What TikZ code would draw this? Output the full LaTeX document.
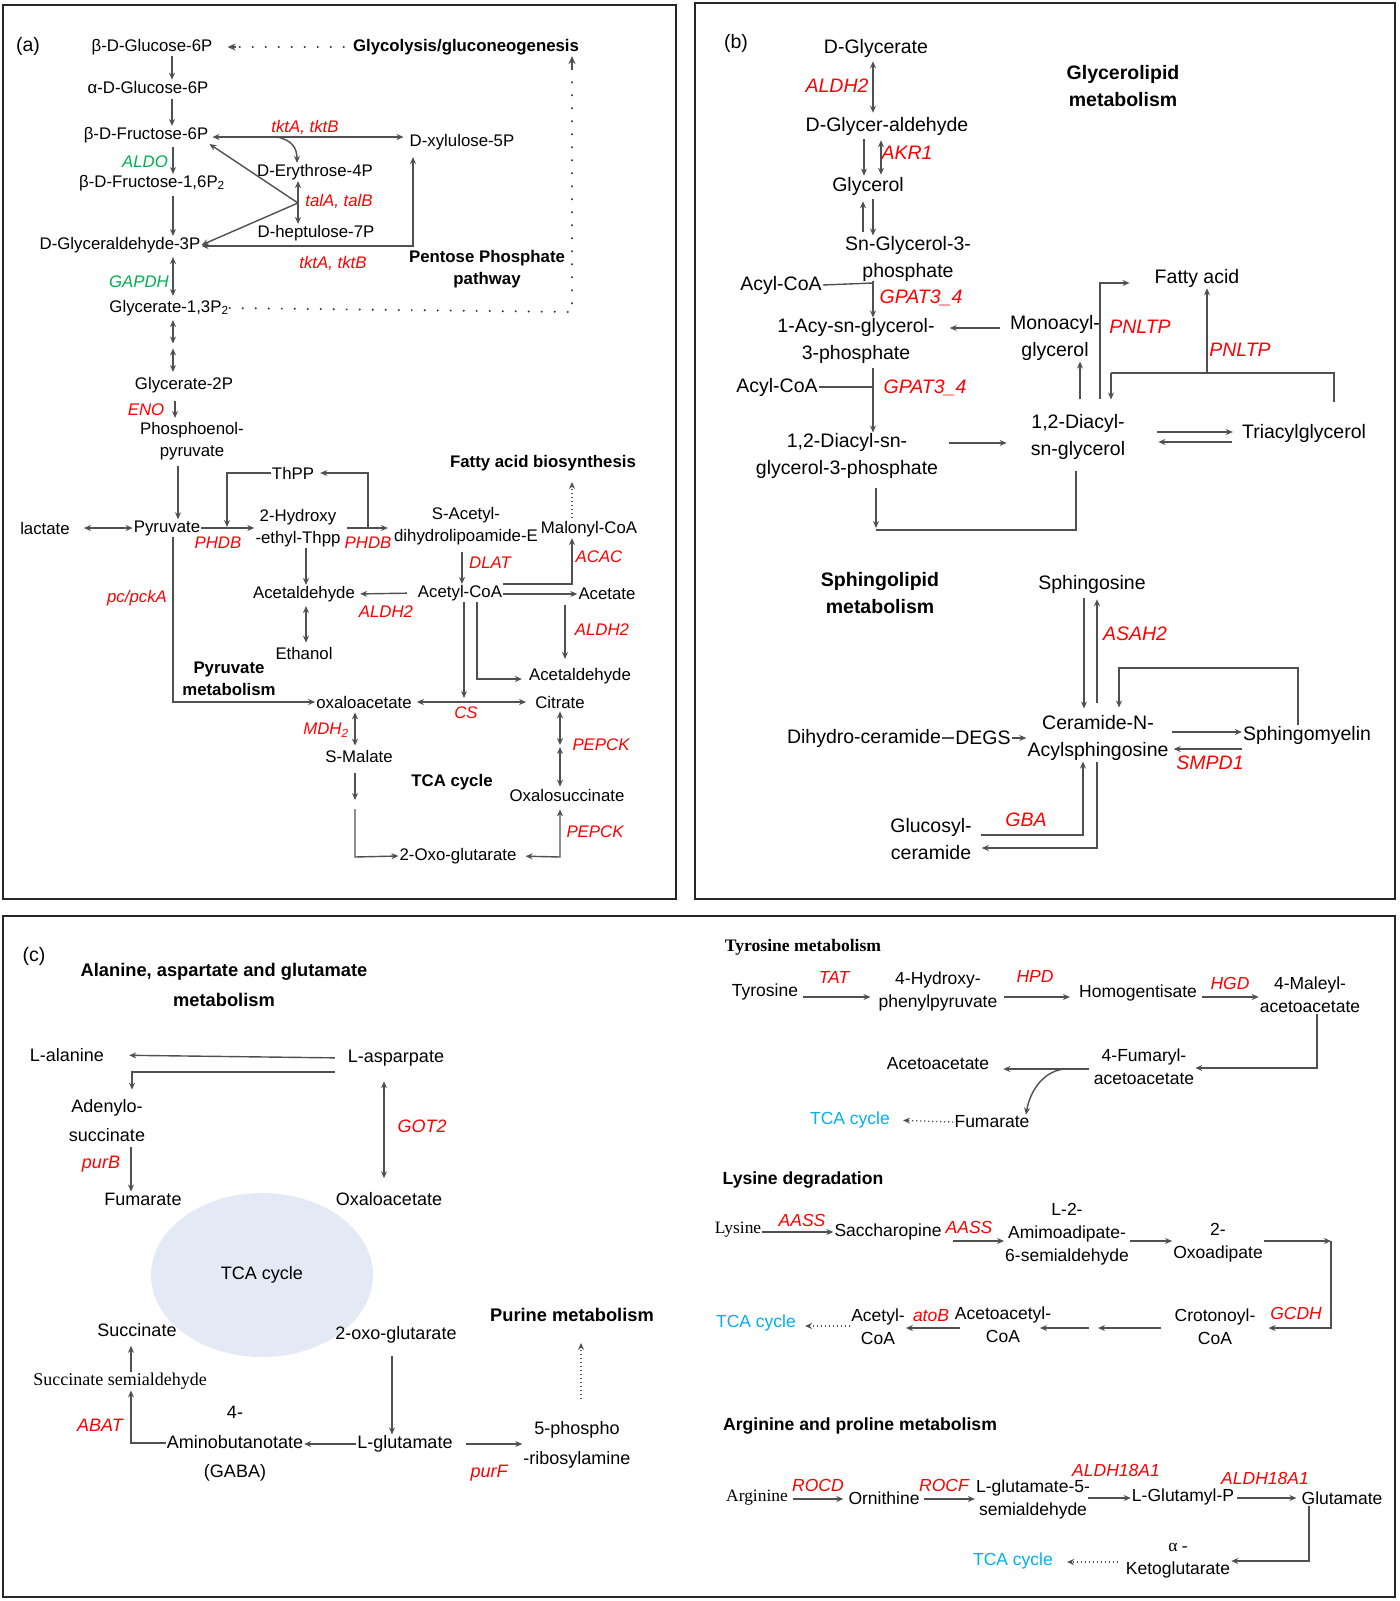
\documentclass[tikz,border=0pt]{standalone}
\usepackage{fontspec}
\setmainfont{Liberation Sans}
\newfontfamily\serf{Liberation Serif}
\usetikzlibrary{arrows.meta,shapes.geometric}
\definecolor{lg}{HTML}{505050}
\definecolor{ered}{HTML}{FF0000}
\definecolor{egrn}{HTML}{00B050}
\definecolor{tcab}{HTML}{00B0F0}
\definecolor{ellf}{HTML}{E4EAF5}
\newcommand{\fA}{\fontsize{16.8}{22}\selectfont}
\newcommand{\fB}{\fontsize{19.5}{26.5}\selectfont}
\newcommand{\fC}{\fontsize{18}{29}\selectfont}
\newcommand{\fD}{\fontsize{17.5}{23}\selectfont}
\tikzset{
 ah/.tip={Stealth[length=7pt,width=6pt]},
 nbase/.style={inner sep=1pt, align=center},
 na/.style={nbase, font=\fA},
 nb/.style={nbase, font=\fB},
 nc/.style={nbase, font=\fC},
 nd/.style={nbase, font=\fD},
 ea/.style={nbase, text=ered, font=\fA\itshape},
 ga/.style={nbase, text=egrn, font=\fA\itshape},
 eb/.style={nbase, text=ered, font=\fB\itshape},
 ec/.style={nbase, text=ered, font=\fC\itshape},
 ed/.style={nbase, text=ered, font=\fD\itshape},
 ta/.style={nbase, font=\fA\bfseries},
 tb/.style={nbase, font=\fB\bfseries},
 tc/.style={nbase, font=\fontsize{18.3}{30}\selectfont\bfseries},
 td/.style={nbase, font=\fontsize{17.6}{22}\selectfont\bfseries},
 sd/.style={nbase, font=\serf\fontsize{17.4}{22}\selectfont},
 cy/.style={nbase, text=tcab, font=\fD},
 ln/.style={draw=lg, line width=1.4pt},
 arr/.style={ln, -ah},
 barr/.style={ln, ah-ah},
 dotA/.style={draw=black!80, line width=2.2pt, line cap=round, dash pattern=on 0pt off 13pt},
 dotC/.style={draw=lg, line width=1.3pt, dash pattern=on 1.2pt off 2.8pt},
 frame/.style={draw=black!85, line width=1.5pt},
}
\begin{document}
\begin{tikzpicture}[x=1pt,y=-1pt]
\useasboundingbox (0,0) rectangle (1400,1601);
% ---------------- frames
\draw[frame] (3,5) rectangle (676,899);
\draw[frame] (695,3) rectangle (1395,899);
\draw[frame] (3,916) rectangle (1395,1597);

% ================= PANEL A =================
\node[nb] (la) at (28,46) {(a)};
\node[na] (bg6p) at (152,47) {β-D-Glucose-6P};
\node[ta] (ggn) at (466,47) {Glycolysis/gluconeogenesis};
\node[na] (ag6p) at (148,87) {α-D-Glucose-6P};
\node[na] (bf6p) at (146,135) {β-D-Fructose-6P};
\node[ea] (tkt1) at (305,127) {tktA, tktB};
\node[na] (xyl) at (462,142) {D-xylulose-5P};
\node[ga] (aldo) at (145,162) {ALDO};
\node[na] (f16) at (152,183) {β-D-Fructose-1,6P\textsubscript{2}};
\node[na] (ery) at (315,172) {D-Erythrose-4P};
\node[ea] (tal) at (339,201) {talA, talB};
\node[na] (hep) at (316,233) {D-heptulose-7P};
\node[na] (gap) at (120,245) {D-Glyceraldehyde-3P};
\node[ea] (tkt2) at (333,263) {tktA, tktB};
\node[ta] (ppp) at (487,269) {Pentose Phosphate\\pathway};
\node[ga] (gapdh) at (139,282) {GAPDH};
\node[na] (g13) at (169,308) {Glycerate-1,3P\textsubscript{2}};
\node[na] (g2p) at (184,385) {Glycerate-2P};
\node[ea] (eno) at (146,410) {ENO};
\node[na] (pep) at (192,441) {Phosphoenol-\\pyruvate};
\node[na] (lac) at (45,528) {lactate};
\node[na] (pyr) at (167,528) {Pyruvate};
\node[na] (thpp) at (293,473) {ThPP};
\node[ea] (phdb1) at (218,543) {PHDB};
\node[na] (hyd) at (298,528) {2-Hydroxy\\-ethyl-Thpp};
\node[ea] (phdb2) at (368,543) {PHDB};
\node[na] (sac) at (466,526) {S-Acetyl-\\dihydrolipoamide-E};
\node[na] (mal) at (589,529) {Malonyl-CoA};
\node[ta] (fab) at (543,463) {Fatty acid biosynthesis};
\node[ea] (dlat) at (490,563) {DLAT};
\node[ea] (acac) at (599,557) {ACAC};
\node[na] (acoa) at (460,593) {Acetyl-CoA};
\node[na] (acd1) at (304,594) {Acetaldehyde};
\node[ea] (aldh2a) at (386,612) {ALDH2};
\node[na] (acet) at (607,594) {Acetate};
\node[ea] (pck) at (137,598) {pc/pckA};
\node[na] (eth) at (304,653) {Ethanol};
\node[ta] (pyrm) at (229,679) {Pyruvate\\metabolism};
\node[ea] (aldh2b) at (602,630) {ALDH2};
\node[na] (acd2) at (580,676) {Acetaldehyde};
\node[na] (oaa) at (364,702) {oxaloacetate};
\node[na] (cit) at (560,702) {Citrate};
\node[ea] (cs) at (466,713) {CS};
\node[ea] (mdh) at (326,730) {MDH\textsubscript{2}};
\node[na] (smal) at (359,756) {S-Malate};
\node[ta] (tcaa) at (452,782) {TCA cycle};
\node[ea] (pepck1) at (601,745) {PEPCK};
\node[na] (oxs) at (567,795) {Oxalosuccinate};
\node[ea] (pepck2) at (595,832) {PEPCK};
\node[na] (oxg) at (458,856) {2-Oxo-glutarate};

\coordinate (tkc) at (277,137);
\coordinate (tj) at (298,203);
\coordinate (pc1) at (413,246);
\coordinate (dc1) at (572,312);
\coordinate (gm) at (173,346);
\coordinate (tp1) at (227,473);
\coordinate (tp2) at (227,527);
\coordinate (tq) at (368,528);
\coordinate (tq2) at (368,473);
\coordinate (am1) at (572,584);
\coordinate (ac2) at (477,679);
\coordinate (csj) at (464,698);
\coordinate (pyc) at (173,702);
\coordinate (sm1) at (355,800);
\coordinate (sm2) at (355,809);
\coordinate (sm3) at (355,857);
\coordinate (oc1) at (560,857);
\coordinate (cm) at (560,746);

\draw[dotA] ([xshift=-8pt]ggn.west) -- ([xshift=20pt]bg6p.east);
\draw[ln,-{Stealth[length=8pt,width=7pt]}] ([xshift=22pt]bg6p.east) -- ([xshift=14pt]bg6p.east);
\draw[arr] (bg6p.south -| 172,0) -- (ag6p.north -| 172,0);
\draw[arr, shorten <=5pt] (ag6p.south -| 172,0) -- (bf6p.north -| 172,0);
\draw[barr, shorten <=3pt, shorten >=5pt] (bf6p.east |- 0,137) -- (xyl.west |- 0,137);
\draw[arr] (tkc) .. controls (292,140) and (297,148) .. (ery.north -| 297,0);
\draw[arr, shorten <=3pt] (bf6p.south -| 173,0) -- (f16.north -| 173,0);
\draw[barr] (ery.south -| 298,0) -- (hep.north -| 298,0);
\draw[arr] (tj) -- (bf6p.south east);
\draw[arr] (tj) -- (gap.east);
\draw[arr, shorten <=4pt] (f16.south -| 173,0) -- (gap.north -| 173,0);
\draw[barr, shorten <=6pt] (xyl.south -| 413,0) -- (pc1) -- (gap.east |- pc1);
\draw[barr, shorten <=3pt, shorten >=3pt] (gap.south -| 173,0) -- (g13.north -| 173,0);
\draw[dotA] (g13.east) -- (dc1) -- (572,72);
\draw[ln,-{Stealth[length=8pt,width=7pt]}] (572,70) -- (ggn.south -| 572,0);
\draw[barr, shorten <=3pt, shorten >=2.5pt] (g13.south -| 173,0) -- (gm);
\draw[barr, shorten <=2.5pt, shorten >=4pt] (gm) -- (g2p.north -| 173,0);
\draw[arr, shorten <=7pt, shorten >=3pt] (g2p.south -| 175,0) -- (pep.north -| 175,0);
\draw[arr, shorten <=5pt] (pep.south -| 178,0) -- (pyr.north -| 178,0);
\draw[barr, shorten <=13pt] (lac.east |- 0,528) -- (pyr.west |- 0,528);
\draw[arr] (pyr.east) -- (hyd.west |- pyr.east);
\draw[arr] (thpp.west) -- (tp1) -- (tp2);
\draw[arr, shorten <=5pt, shorten >=5pt] (hyd.east |- 0,528) -- (sac.west |- 0,528);
\draw[arr, shorten >=5pt] (tq) -- (tq2) -- (thpp.east);
\draw[dotC, -ah, shorten <=2pt, shorten >=10pt] (mal.north -| 572,0) -- (fab.south -| 572,0);
\draw[arr, shorten <=6pt] (sac.south -| 462,0) -- (acoa.north -| 462,0);
\draw[arr] (acoa.east |- am1) -- (am1) -- (mal.south -| 572,0);
\draw[arr, shorten <=10pt, shorten >=4pt] (acoa.west) -- (acd1.east);
\draw[arr] (acoa.east |- 0,594) -- (acet.west |- 0,594);
\draw[arr] (hyd.south -| 306,0) -- (acd1.north -| 306,0);
\draw[barr, shorten <=3pt, shorten >=3pt] (acd1.south -| 306,0) -- (eth.north -| 306,0);
\draw[arr, shorten <=4pt, shorten >=8pt] (acet.south -| 565,0) -- (acd2.north -| 565,0);
\draw[arr, shorten >=6pt] (acoa.south -| ac2) -- (ac2) -- (acd2.west |- ac2);
\draw[arr] (acoa.south -| csj) -- (csj);
\draw[arr] (pyr.south -| pyc) -- (pyc) -- (oaa.west);
\draw[barr, shorten <=4pt, shorten >=8pt] (oaa.east) -- (cit.west);
\draw[barr, shorten <=3pt, shorten >=3pt] (oaa.south -| 355,0) -- (smal.north -| 355,0);
\draw[arr, shorten <=10pt] (smal.south -| sm1) -- (sm1);
\draw[arr] (sm2) -- (sm3) -- (oxg.west);
\draw[barr, shorten <=7pt, shorten >=8pt] (oxs.south -| oc1) -- (oc1) -- (oxg.east);
\draw[barr, shorten <=2pt, shorten >=1pt] (cit.south -| cm) -- (cm);
\draw[barr, shorten <=1pt, shorten >=1pt] (cm) -- (oxs.north -| cm);

% ================= PANEL B =================
\node[nb] (lb) at (736,43) {(b)};
\node[nb] (dgly) at (876,48) {D-Glycerate};
\node[eb] (aldh2c) at (837,86) {ALDH2};
\node[nb] (gld) at (887,126) {D-Glycer-aldehyde};
\node[tb] (glm) at (1123,86) {Glycerolipid\\metabolism};
\node[eb] (akr) at (907,153) {AKR1};
\node[nb] (glol) at (868,186) {Glycerol};
\node[nb] (sng) at (908,259) {Sn-Glycerol-3-\\phosphate};
\node[nb] (acyl1) at (781,285) {Acyl-CoA};
\node[eb] (gpat1) at (921,298) {GPAT3\_4};
\node[nb] (acy) at (856,341) {1-Acy-sn-glycerol-\\3-phosphate};
\node[nb] (mono) at (1055,338) {Monoacyl-\\glycerol};
\node[eb] (pnl1) at (1140,327) {PNLTP};
\node[nb] (fa) at (1197,278) {Fatty acid};
\node[eb] (pnl2) at (1240,350) {PNLTP};
\node[nb] (acyl2) at (777,387) {Acyl-CoA};
\node[eb] (gpat2) at (925,388) {GPAT3\_4};
\node[nb] (dsg) at (847,456) {1,2-Diacyl-sn-\\glycerol-3-phosphate};
\node[nb] (dag) at (1078,437) {1,2-Diacyl-\\sn-glycerol};
\node[nb] (tag) at (1304,433) {Triacylglycerol};
\node[tb] (sphm) at (880,593) {Sphingolipid\\metabolism};
\node[nb] (sph) at (1092,584) {Sphingosine};
\node[eb] (asah) at (1135,634) {ASAH2};
\node[nb] (cer) at (1098,738) {Ceramide-N-\\Acylsphingosine};
\node[nb] (dhc) at (864,738) {Dihydro-ceramide};
\node[nb] (degs) at (983,738) {DEGS};
\node[nb] (smy) at (1307,735) {Sphingomyelin};
\node[eb] (smpd) at (1210,763) {SMPD1};
\node[nb] (glc) at (931,839) {Glucosyl-\\ceramide};
\node[eb] (gba) at (1026,820) {GBA};

\coordinate (aj1) at (873,283);
\coordinate (aj2) at (873,387);
\coordinate (fj) at (1100,283);
\coordinate (tg1) at (1334,373);
\coordinate (tg2) at (1111,373);
\coordinate (tg3) at (1207,373);
\coordinate (dj) at (876,530);
\coordinate (dj2) at (1076,530);
\coordinate (sl1) at (1298,668);
\coordinate (sl2) at (1119,668);
\coordinate (gb1) at (1083,835);
\coordinate (gb2) at (1097,848);

\draw[barr, shorten <=3pt, shorten >=3pt] (dgly.south -| 873,0) -- (gld.north -| 873,0);
\draw[arr, shorten <=3pt] (gld.south -| 864,0) -- (glol.north -| 864,0);
\draw[barr, shorten <=4pt, shorten >=1pt] (gld.south -| 881,0) -- (glol.north -| 881,0);
\draw[arr, shorten <=3pt, shorten >=5pt] (sng.north -| 863,0) -- (glol.south -| 863,0);
\draw[arr, shorten <=3pt] (glol.south -| 873,0) -- (sng.north -| 873,0);
\draw[ln] (acyl1.east) -- (aj1);
\draw[arr, shorten <=-2pt] (aj1) -- (acy.north -| aj1);
\draw[arr, shorten <=9pt, shorten >=14pt] (mono.west |- 0,328) -- (acy.east |- 0,328);
\draw[arr, shorten <=14pt, shorten >=24pt] (dag.north -| fj) -- (fj) -- (fa.west |- fj);
\draw[arr, shorten <=14pt] (dag.north -| 1080,0) -- (mono.south -| 1080,0);
\draw[ln, shorten <=21pt] (tag.north -| tg1) -- (tg1) -- (tg2);
\draw[arr, shorten >=14pt] (tg2) -- (dag.north -| tg2);
\draw[arr] (tg3) -- (fa.south -| tg3);
\draw[ln] (acyl2.east) -- (aj2);
\draw[arr, shorten <=3pt] (acy.south -| 873,0) -- (dsg.north -| 873,0);
\draw[arr, shorten <=10pt, shorten >=23pt] (dsg.east |- 0,443) -- (dag.west |- 0,443);
\draw[arr, shorten <=31pt, shorten >=8pt] (dag.east |- 0,432) -- (tag.west |- 0,432);
\draw[arr, shorten <=9pt, shorten >=32pt] (tag.west |- 0,442) -- (dag.east |- 0,442);
\draw[arr, shorten <=8pt, shorten >=2pt] (dsg.south -| dj) -- (dj);
\draw[ln, shorten >=10pt] (dj) -- (dj2) -- (dag.south -| dj2);
\draw[arr, shorten <=4pt, shorten >=6pt] (sph.south -| 1084,0) -- (cer.north -| 1084,0);
\draw[arr, shorten <=11pt, shorten >=5pt] (cer.north -| 1097,0) -- (sph.south -| 1097,0);
\draw[arr, shorten >=7pt] (smy.north -| sl1) -- (sl1) -- (sl2) -- (cer.north -| sl2);
\draw[ln] (dhc.east) -- (degs.west);
\draw[arr] (degs.east) -- (cer.west |- degs.east);
\draw[arr, shorten <=2pt] (cer.east |- 0,732) -- (smy.west |- 0,732);
\draw[arr, shorten >=4pt] (smy.west |- 0,749) -- (cer.east |- 0,749);
\draw[arr, shorten <=8pt] (glc.east |- gb1) -- (gb1) -- (cer.south -| gb1);
\draw[arr, shorten >=9pt] (cer.south -| gb2) -- (gb2) -- (glc.east |- gb2);

% ================= PANEL C (left) =================
\node[nb] (lc) at (34,956) {(c)};
\node[tc] (aag) at (224,985) {Alanine, aspartate and glutamate\\metabolism};
\node[nc] (lala) at (67,1055) {L-alanine};
\node[nc] (lasp) at (396,1058) {L-asparpate};
\node[nc] (aden) at (107,1121) {Adenylo-\\succinate};
\node[ec] (purb) at (101,1164) {purB};
\node[nc] (fum) at (143,1199) {Fumarate};
\node[ec] (got) at (422,1126) {GOT2};
\node[nc] (oaa2) at (389,1199) {Oxaloacetate};
\node[ellipse, fill=ellf, minimum width=222pt, minimum height=164pt, inner sep=0pt, font=\fC] (tcac) at (262,1275) {TCA cycle};
\node[nc] (succ) at (137,1330) {Succinate};
\node[nc] (oxo2) at (396,1335) {2-oxo-glutarate};
\node[tc] (pur) at (572,1315) {Purine metabolism};
\node[nbase, font=\serf\fontsize{18}{22}\selectfont] (ssa) at (120,1381) {Succinate semialdehyde};
\node[ec] (abat) at (100,1425) {ABAT};
\node[nbase, font=\fontsize{18}{29.5}\selectfont] (gaba) at (235,1444) {4-\\Aminobutanotate\\(GABA)};
\node[nc] (lglu) at (405,1444) {L-glutamate};
\node[ec] (purf) at (489,1473) {purF};
\node[nbase, font=\fontsize{18}{30}\selectfont] (prib) at (577,1445) {5-phospho\\-ribosylamine};

\coordinate (cj1) at (132,1072);
\coordinate (gj1) at (131,1443);

\draw[arr, shorten <=12pt, shorten >=24pt] (lasp.west) -- (lala.east);
\draw[arr, shorten <=12pt, shorten >=9pt] (lasp.west |- cj1) -- (cj1) -- (aden.north -| cj1);
\draw[barr, shorten <=14pt, shorten >=13pt] (lasp.south -| 384,0) -- (oaa2.north -| 384,0);
\draw[arr, shorten <=4pt] (aden.south -| 131,0) -- (fum.north -| 131,0);
\draw[arr, shorten >=8pt] (ssa.north -| 131,0) -- (succ.south -| 131,0);
\draw[arr] (gaba.west |- gj1) -- (gj1) -- (ssa.south -| gj1);
\draw[arr] (lglu.west) -- (gaba.east |- lglu.west);
\draw[arr, shorten <=11pt] (oxo2.south -| 392,0) -- (lglu.north -| 392,0);
\draw[arr, shorten <=12pt] (lglu.east) -- (prib.west |- lglu.east);
\draw[dotC, -ah, shorten <=21pt, shorten >=20pt] (prib.north -| 581,0) -- (pur.south -| 581,0);

% ================= PANEL C (right) =================
\node[nbase, font=\serf\bfseries\fontsize{17.6}{22}\selectfont] (tyrm) at (803,947) {Tyrosine metabolism};
\node[nd] (tyr) at (765,992) {Tyrosine};
\node[ed] (tat) at (834,977) {TAT};
\node[nd] (hpp) at (938,991) {4-Hydroxy-\\phenylpyruvate};
\node[ed] (hpd) at (1035,976) {HPD};
\node[nd] (hgn) at (1138,993) {Homogentisate};
\node[ed] (hgd) at (1230,983) {HGD};
\node[nd] (maa) at (1310,995) {4-Maleyl-\\acetoacetate};
\node[nd] (faa) at (1144,1067) {4-Fumaryl-\\acetoacetate};
\node[nd] (aca) at (938,1064) {Acetoacetate};
\node[nd] (fum2) at (992,1122) {Fumarate};
\node[cy] (tca1) at (850,1120) {TCA cycle};
\node[td] (lysd) at (803,1180) {Lysine degradation};
\node[sd] (lys) at (738,1230) {Lysine};
\node[ed] (aass1) at (802,1220) {AASS};
\node[nd] (sacc) at (888,1232) {Saccharopine};
\node[ed] (aass2) at (969,1227) {AASS};
\node[nd] (ams) at (1067,1234) {L-2-\\Amimoadipate-\\6-semialdehyde};
\node[nd] (oxa) at (1218,1243) {2-\\Oxoadipate};
\node[nd] (cro) at (1215,1327) {Crotonoyl-\\CoA};
\node[ed] (gcdh) at (1296,1313) {GCDH};
\node[nd] (acac2) at (1003,1325) {Acetoacetyl-\\CoA};
\node[ed] (atob) at (931,1316) {atoB};
\node[nd] (acetyl) at (878,1327) {Acetyl-\\CoA};
\node[cy] (tca2) at (756,1323) {TCA cycle};
\node[td] (apm) at (860,1426) {Arginine and proline metabolism};
\node[sd] (arg) at (757,1498) {Arginine};
\node[ed] (rocd) at (818,1485) {ROCD};
\node[nd] (orn) at (884,1498) {Ornithine};
\node[ed] (rocf) at (944,1485) {ROCF};
\node[nd] (l5s) at (1033,1499) {L-glutamate-5-\\semialdehyde};
\node[ed] (ald1) at (1116,1470) {ALDH18A1};
\node[nd] (lgp) at (1183,1497) {L-Glutamyl-P};
\node[ed] (ald2) at (1265,1478) {ALDH18A1};
\node[nd] (glu) at (1342,1498) {Glutamate};
\node[nd] (akg) at (1178,1561) {{\serf α -}\\Ketoglutarate};
\node[cy] (tca3) at (1013,1561) {TCA cycle};

\coordinate (mj) at (1317,1068);
\coordinate (fc) at (1067,1069);
\coordinate (oc) at (1331,1241);
\coordinate (oc2) at (1331,1328);
\coordinate (cr1) at (1098,1328);
\coordinate (cr2) at (1089,1328);
\coordinate (cr3) at (1040,1328);
\coordinate (l5a) at (1088,1498);
\coordinate (gk) at (1309,1561);

\draw[arr, shorten <=4pt, shorten >=7pt] (tyr.east |- 0,997) -- (hpp.west |- 0,997);
\draw[arr, shorten <=5pt, shorten >=8pt] (hpp.east |- 0,997) -- (hgn.west |- 0,997);
\draw[arr, shorten <=4pt] (hgn.east |- 0,997) -- (maa.west |- 0,997);
\draw[arr] (maa.south -| mj) -- (mj) -- (faa.east |- mj);
\draw[arr, shorten <=4pt, shorten >=13pt] (faa.west |- 0,1069) -- (aca.east |- 0,1069);
\draw[arr] (fc) .. controls (1045,1069) and (1030,1090) .. (fum2.north -| 1026,0);
\draw[dotC, -ah, shorten >=12pt] (fum2.west) -- (tca1.east);
\draw[arr] (lys.east |- 0,1232) -- (sacc.west |- 0,1232);
\draw[arr, shorten <=10pt] (sacc.east |- 0,1241) -- (ams.west |- 0,1241);
\draw[arr] (ams.east |- 0,1241) -- (oxa.west |- 0,1241);
\draw[arr] (oxa.east |- oc) -- (oc);
\draw[arr, shorten >=12pt] (oc) -- (oc2) -- (cro.east |- oc2);
\draw[arr, shorten <=12pt] (cro.west |- cr1) -- (cr1);
\draw[arr] (cr2) -- (cr3);
\draw[arr, shorten <=-6pt] (acac2.west |- 0,1328) -- (acetyl.east |- 0,1328);
\draw[dotC, -ah, shorten >=8pt] (acetyl.west |- 0,1326) -- (tca2.east |- 0,1326);
\draw[arr, shorten <=4pt, shorten >=4pt] (arg.east |- 0,1499) -- (orn.west |- 0,1499);
\draw[arr, shorten <=3pt] (orn.east |- 0,1499) -- (l5s.west |- 0,1499);
\draw[arr] (l5a) -- (lgp.west |- l5a);
\draw[arr, shorten <=2pt, shorten >=4pt] (lgp.east |- 0,1498) -- (glu.west |- 0,1498);
\draw[arr] (glu.south -| gk) -- (gk) -- (akg.east |- gk);
\draw[dotC, -ah, shorten <=7pt, shorten >=13pt] (akg.west |- 0,1562) -- (tca3.east |- 0,1562);
\end{tikzpicture}
\end{document}
